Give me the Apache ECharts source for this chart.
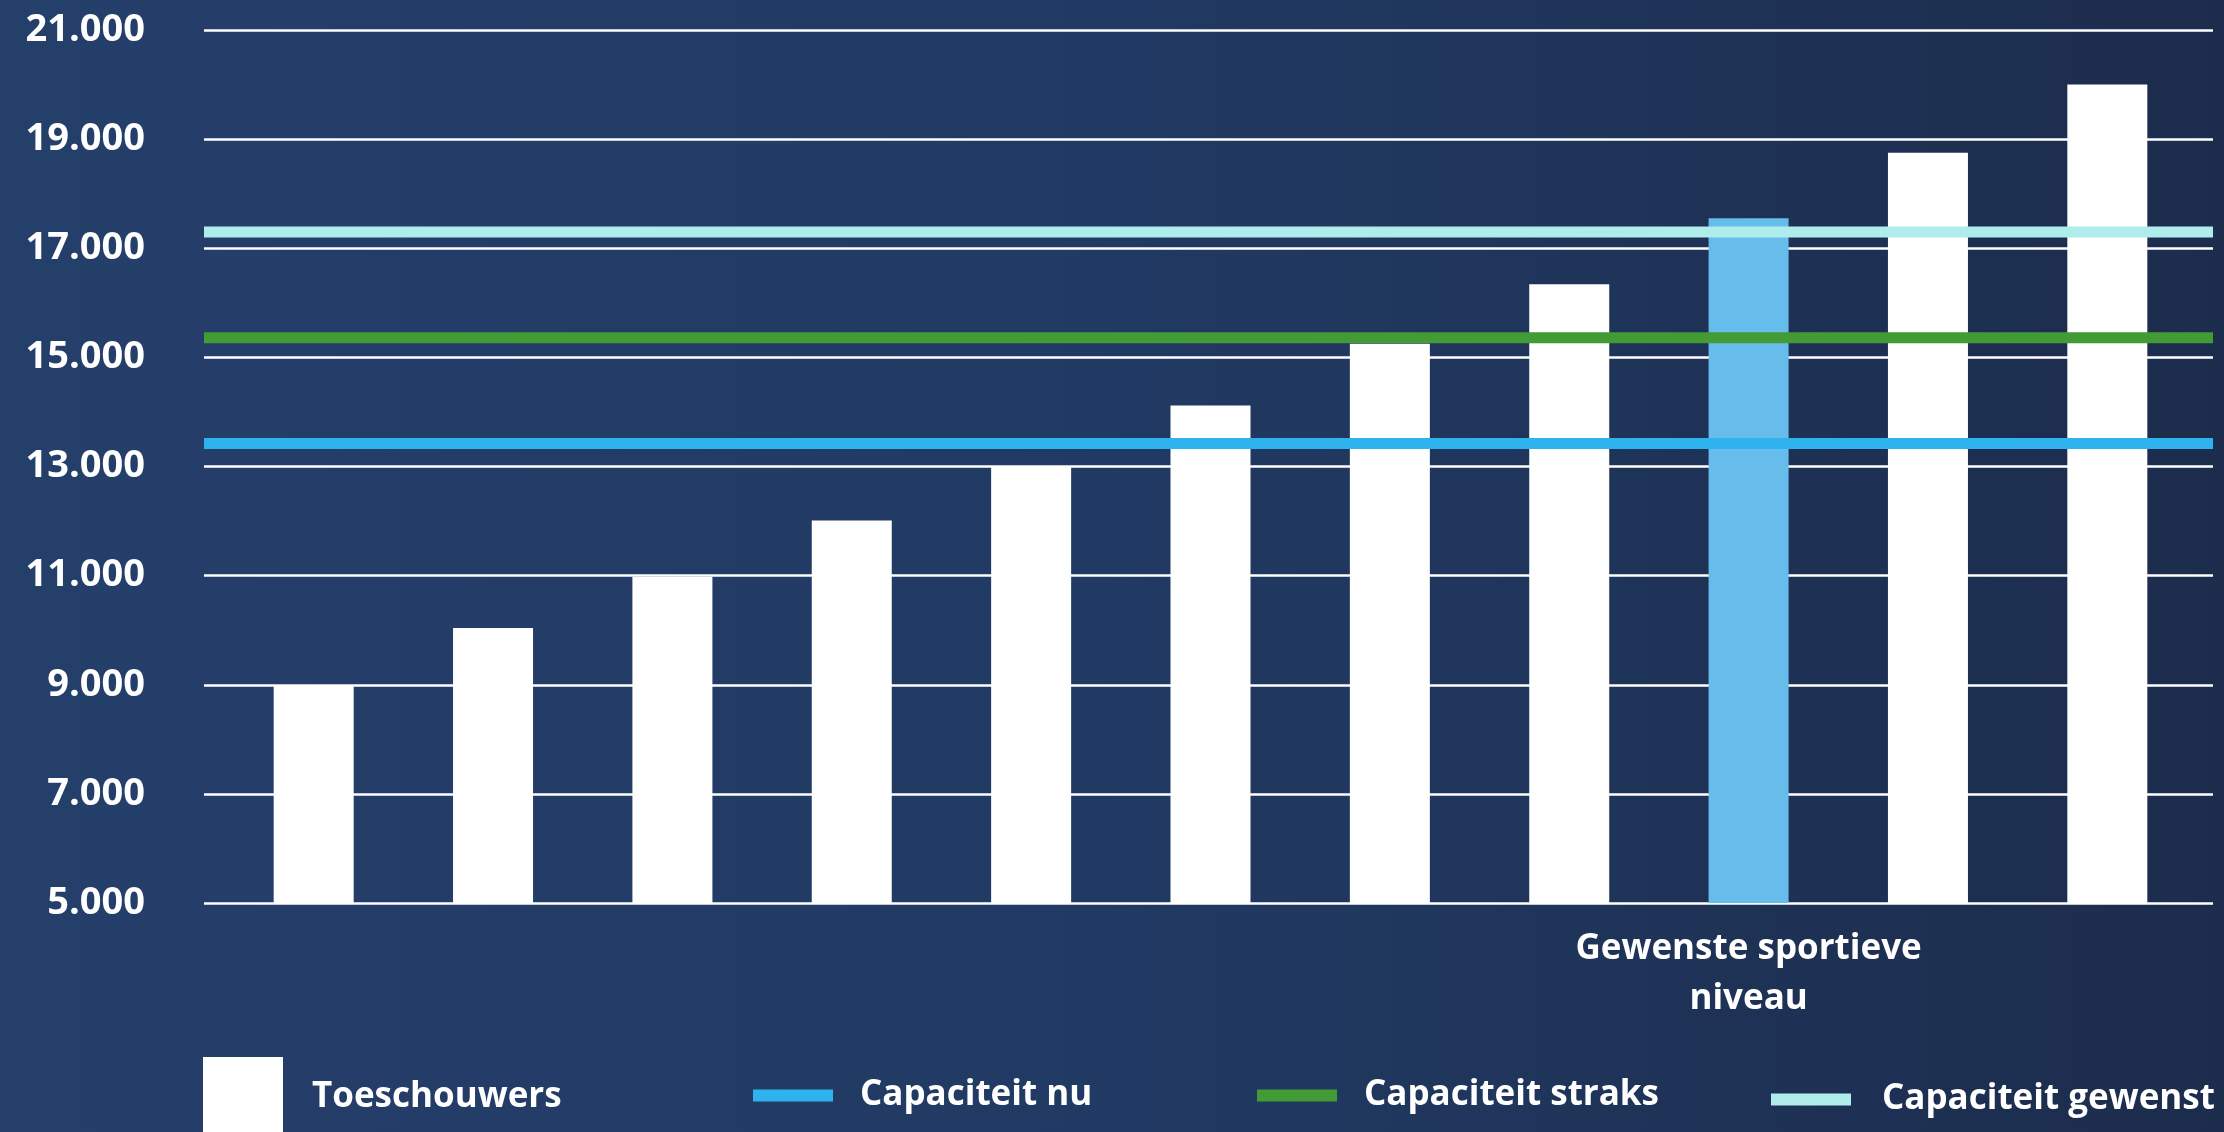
<!DOCTYPE html>
<html>
<head>
<meta charset="utf-8">
<script src="https://cdn.jsdelivr.net/npm/echarts@6/dist/echarts.min.js"></script>
<style>
  html, body { margin: 0; padding: 0; }
  #chart { width: 2224px; height: 1132px; }
</style>
</head>
<body>
<div id="chart"></div>
<script>
// categorieën (alleen de 9e heeft een label)
const categories = ["", "", "", "", "", "", "", "", "Gewenste sportieve\nniveau", "", ""];
// aantal toeschouwers per niveau
const toeschouwers = [8980, 10040, 10980, 12010, 13000, 14120, 15250, 16340, 17550, 18750, 20000];
const highlightIndex = 8;

// capaciteit van het stadion
const capaciteitNu = 13420;
const capaciteitStraks = 15360;
const capaciteitGewenst = 17300;

// y-as
const yMin = 5000;
const yMax = 21000;
const yStep = 2000;

const fontFamily = "'Open Sans', 'Noto Sans', sans-serif";

const fmt = (v) => String(v).replace(/\B(?=(\d{3})+(?!\d))/g, ".");

const flatLine = (v) => [[0, v], [1, v]];

const chart = echarts.init(document.getElementById("chart"));

const options = {
  animation: false,
  backgroundColor: new echarts.graphic.LinearGradient(0, 0, 1, 0, [
    { offset: 0, color: "#253f6b" },
    { offset: 0.5, color: "#213a63" },
    { offset: 1, color: "#1c2c4c" },
  ]),
  grid: [
    // raster + capaciteitslijnen
    { left: 204, right: 11, top: 30, bottom: 229 },
    // staven
    { left: 224, right: 27, top: 30, bottom: 229 },
  ],
  legend: [
    {
      left: 198, top: 1052,
      itemWidth: 80, itemHeight: 80,
      textStyle: { color: "#fff", fontFamily, fontWeight: "bold", fontSize: 35, padding: [0, 0, 0, 24] },
      data: [{ name: "Toeschouwers", icon: "rect" }],
    },
    {
      left: 748, top: 1073,
      itemWidth: 80, itemHeight: 12,
      textStyle: { color: "#fff", fontFamily, fontWeight: "bold", fontSize: 35, padding: [0, 0, 0, 22] },
      data: [{ name: "Capaciteit nu", icon: "rect" }],
    },
    {
      left: 1252, top: 1073,
      itemWidth: 80, itemHeight: 12,
      textStyle: { color: "#fff", fontFamily, fontWeight: "bold", fontSize: 35, padding: [0, 0, 0, 22] },
      data: [{ name: "Capaciteit straks", icon: "rect" }],
    },
    {
      left: 1766, top: 1077,
      itemWidth: 80, itemHeight: 12,
      textStyle: { color: "#fff", fontFamily, fontWeight: "bold", fontSize: 35, padding: [0, 0, 0, 26] },
      data: [{ name: "Capaciteit gewenst", icon: "rect" }],
    },
  ],
  xAxis: [
    { gridIndex: 0, type: "value", min: 0, max: 1, show: false },
    {
      gridIndex: 1,
      type: "category",
      data: categories,
      axisLine: { show: false },
      axisTick: { show: false },
      axisLabel: {
        interval: 0,
        color: "#fff",
        fontFamily,
        fontWeight: "bold",
        fontSize: 35,
        lineHeight: 50,
        margin: 21,
      },
    },
  ],
  yAxis: [
    {
      gridIndex: 0,
      type: "value",
      min: yMin,
      max: yMax,
      interval: yStep,
      axisLine: { show: false },
      axisTick: { show: false },
      axisLabel: {
        color: "#fff",
        fontFamily,
        fontWeight: "bold",
        fontSize: 38,
        margin: 59,
        formatter: fmt,
      },
      splitLine: { lineStyle: { color: "#ffffff", width: 2.5 } },
    },
    { gridIndex: 1, type: "value", min: yMin, max: yMax, show: false, splitLine: { show: false } },
  ],
  series: [
    {
      name: "Toeschouwers",
      type: "bar",
      xAxisIndex: 1,
      yAxisIndex: 1,
      barWidth: 80,
      itemStyle: { color: "#ffffff" },
      data: toeschouwers.map((v, i) =>
        i === highlightIndex ? { value: v, itemStyle: { color: "#66bdeb" } } : v
      ),
    },
    {
      name: "Capaciteit nu",
      type: "line",
      xAxisIndex: 0,
      yAxisIndex: 0,
      z: 3,
      symbol: "none",
      color: "#2eb3ee",
      lineStyle: { color: "#2eb3ee", width: 11, cap: "butt" },
      data: flatLine(capaciteitNu),
    },
    {
      name: "Capaciteit straks",
      type: "line",
      xAxisIndex: 0,
      yAxisIndex: 0,
      z: 3,
      symbol: "none",
      color: "#429b35",
      lineStyle: { color: "#429b35", width: 11, cap: "butt" },
      data: flatLine(capaciteitStraks),
    },
    {
      name: "Capaciteit gewenst",
      type: "line",
      xAxisIndex: 0,
      yAxisIndex: 0,
      z: 3,
      symbol: "none",
      color: "#aeedec",
      lineStyle: { color: "#aeedec", width: 11, cap: "butt" },
      data: flatLine(capaciteitGewenst),
    },
  ],
};

chart.setOption(options);

window.addEventListener("resize", () => {
  chart.resize();
});
</script>
</body>
</html>
